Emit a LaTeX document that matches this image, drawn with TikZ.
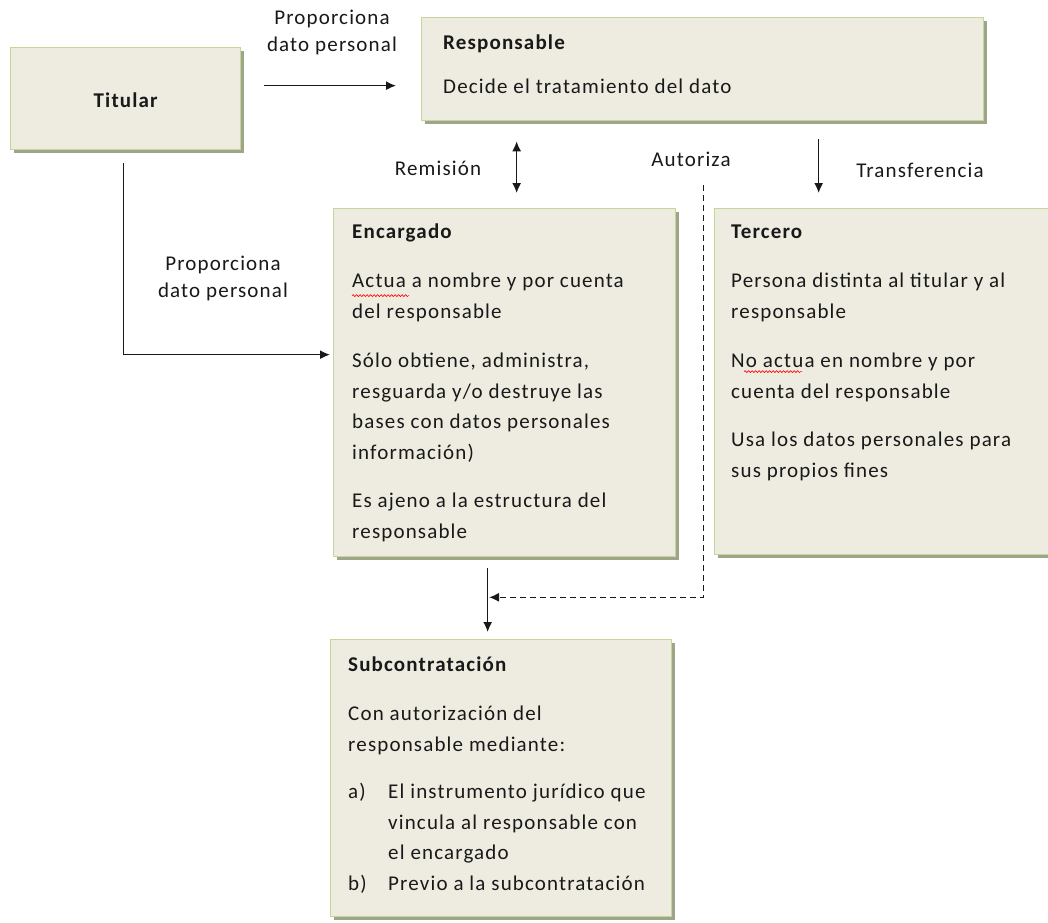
\documentclass[tikz,border=0pt]{standalone}
\usepackage{fontspec}
\setmainfont{Carlito}[LetterSpace=5.5]
\usetikzlibrary{shadows,arrows.meta,calc,decorations.pathmorphing}

\definecolor{boxfill}{RGB}{238,236,225}
\definecolor{boxline}{RGB}{196,214,155}
\definecolor{boxshadow}{RGB}{158,166,138}
\definecolor{ink}{RGB}{25,25,25}

\begin{document}
\begin{tikzpicture}[x=1pt,y=-1pt,
  panel/.style={draw=boxline, line width=1.3pt, fill=boxfill, inner sep=0pt,
    anchor=north west,
    drop shadow={shadow xshift=3pt, shadow yshift=-3pt, fill=boxshadow, opacity=1}},
  body/.style={anchor=north west, inner sep=0pt, align=left,
    font=\fontsize{21}{30.5}\selectfont, text=ink},
  lbl/.style={inner sep=0pt, align=center, font=\fontsize{21}{27}\selectfont, text=ink},
  arr/.style={-{Latex[length=10pt,width=9pt]}, line width=1.5pt, draw=ink},
  dbl/.style={{Latex[length=10pt,width=9pt]}-{Latex[length=10pt,width=9pt]}, line width=1.5pt, draw=ink},
  spell/.style={draw=red, line width=0.6pt, decorate,
    decoration={snake, amplitude=1pt, segment length=3.5pt}},
]
\fill[white] (0,0) rectangle (1048,922);
\useasboundingbox (0,0) rectangle (1048,922);

% boxes
\node[panel, minimum width=230pt, minimum height=102pt] (tit) at (10,47) {};
\node[panel, minimum width=562pt, minimum height=103pt] (resp) at (421,17) {};
\node[panel, minimum width=342pt, minimum height=348pt] (enc) at (333,208) {};
\node[panel, minimum width=340pt, minimum height=346pt] (ter) at (714,208) {};
\node[panel, minimum width=341pt, minimum height=277pt] (sub) at (330,639) {};

% box texts
\node[lbl, font=\fontsize{21}{27}\selectfont\bfseries] (titT) at ($(tit.center)+(0,2)$) {Titular};

\node[body] (respT) at (443,27.6) {\strut\textbf{Responsable}\\[14pt]
Decide el tratamiento del dato};

\node[body] (encT) at (352,216.6) {\strut\textbf{Encargado}\\[19pt]
Actua a nombre y por cuenta\\
del responsable\\[19pt]
Sólo obtiene, administra,\\
resguarda y/o destruye las\\
bases con datos personales\\
información)\\[18pt]
Es ajeno a la estructura del\\
responsable};

\node[body] (terT) at (731,216.6) {\strut\textbf{Tercero}\\[19pt]
Persona distinta al titular y al\\
responsable\\[19pt]
No actua en nombre y por\\
cuenta del responsable\\[18pt]
Usa los datos personales para\\
sus propios fines};

\node[body] (subT) at (348,649.6) {\strut\textbf{Subcontratación}\\[19pt]
Con autorización del\\
responsable mediante:\\[17pt]
\makebox[40pt][l]{a)}El instrumento jurídico que\\
\hspace*{40pt}vincula al responsable con\\
\hspace*{40pt}el encargado\\
\makebox[40pt][l]{b)}Previo a la subcontratación};

% spell-check underlines
\draw[spell] ($(encT.north west)+(0,79)$) -- ++(57,0);
\draw[spell] ($(terT.north west)+(13,155)$) -- ++(58,0);

% connector labels
\node[lbl] (lblTop) at (332,32) {Proporciona\\dato personal};
\node[lbl] (lblLow) at (223,278) {Proporciona\\dato personal};
\node[lbl] (lblRem) at (438,168) {Remisión};
\node[lbl] (lblAut) at (691,159) {Autoriza};
\node[lbl] (lblTra) at (920,170) {Transferencia};

% connectors
\draw[arr, shorten <=23pt, shorten >=25pt]
  ($(tit.east)+(0,-13)$) -- ($(tit.east -| resp.west)+(0,-13)$);
\draw[arr, shorten <=13pt, shorten >=3pt]
  ($(tit.south)+(-2,0)$) |- ($(enc.west)+(0,-28)$);
\draw[dbl, shorten <=20pt, shorten >=15pt]
  ($(resp.south -| enc.north)+(12,0)$) -- ($(enc.north)+(12,0)$);
\draw[arr, shorten <=18pt, shorten >=15pt]
  ($(resp.south -| ter.north)+(-66,0)$) -- ($(ter.north)+(-66,0)$);

\coordinate (encOut) at ($(enc.south)+(-17,0)$);
\coordinate (subIn) at ($(sub.north -| enc.south)+(-17,0)$);
\coordinate (join) at ($(encOut)+(0,40)$);
\coordinate (authTop) at ($(enc.north east)+(27,-23)$);
\draw[arr, shorten <=11pt, shorten >=7pt] (encOut) -- (subIn);
\draw[arr, dash pattern=on 6pt off 4pt, line width=1.2pt, shorten >=1.5pt]
  (authTop) |- (join);
\end{tikzpicture}
\end{document}
